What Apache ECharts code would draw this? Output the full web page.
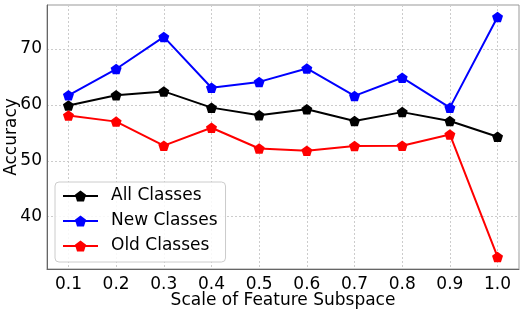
<!DOCTYPE html>
<html>
<head>
<meta charset="utf-8">
<script src="https://cdn.jsdelivr.net/npm/echarts@6/dist/echarts.min.js"></script>
<style>html,body{margin:0;padding:0;background:#fff;}#c{width:525px;height:312px;}</style>
</head>
<body>
<div id="c"></div>
<script>
const scales = [0.1, 0.2, 0.3, 0.4, 0.5, 0.6, 0.7, 0.8, 0.9, 1.0];
const allClasses = [59.9, 61.7, 62.4, 59.5, 58.15, 59.2, 57.1, 58.7, 57.1, 54.3];
const newClasses = [61.7, 66.4, 72.15, 63.05, 64.1, 66.5, 61.6, 64.85, 59.5, 75.7];
const oldClasses = [58.1, 57.0, 52.7, 55.9, 52.2, 51.8, 52.65, 52.7, 54.7, 32.8];
const xTicks = [0.1, 0.2, 0.3, 0.4, 0.5, 0.6, 0.7, 0.8, 0.9, 1.0];
const yTicks = [40, 50, 60, 70];

const pentagon = 'path://M0,-1 L0.951,-0.309 L0.588,0.809 L-0.588,0.809 L-0.951,-0.309 Z';
const font = 'DejaVu Sans';

function mk(name, vals, color) {
  return {
    name: name,
    type: 'line',
    data: scales.map((x, i) => [x, vals[i]]),
    symbol: pentagon,
    symbolSize: [11, 10.5],
    showSymbol: true,
    itemStyle: { color: color },
    lineStyle: { color: color, width: 2 },
    emphasis: { disabled: true },
    animation: false
  };
}

const chart = echarts.init(document.getElementById('c'), null, { renderer: 'canvas' });
chart.setOption({
  animation: false,
  grid: { left: 47, right: 6, top: 5, bottom: 43, outerBoundsMode: 'none', containLabel: false,
    show: true, borderColor: '#999', borderWidth: 1, backgroundColor: 'transparent' },
  xAxis: {
    type: 'value', min: 0.055, max: 1.045,
    name: 'Scale of Feature Subspace', nameLocation: 'middle', nameGap: 23, nameMoveOverlap: false,
    nameTextStyle: { fontFamily: font, fontSize: 17, color: '#000' },
    axisLine: { show: true, onZero: false, lineStyle: { color: '#666', width: 1 } },
    axisTick: { show: false, customValues: xTicks },
    axisLabel: { customValues: xTicks, fontFamily: font, fontSize: 17, color: '#000', margin: 7,
      formatter: v => v.toFixed(1) },
    splitLine: { show: true, lineStyle: { color: '#ccc', type: [2, 2], width: 1 } }
  },
  yAxis: {
    type: 'value', min: 30.65, max: 77.85,
    name: 'Accuracy', nameLocation: 'middle', nameGap: 27, nameRotate: 90, nameMoveOverlap: false,
    nameTextStyle: { fontFamily: font, fontSize: 17, color: '#000' },
    axisLine: { show: true, onZero: false, lineStyle: { color: '#666', width: 1 } },
    axisTick: { show: false, customValues: yTicks },
    axisLabel: { customValues: yTicks, fontFamily: font, fontSize: 17, color: '#000', margin: 5 },
    splitLine: { show: true, lineStyle: { color: '#ccc', type: [2, 2], width: 1 } }
  },
  legend: {
    orient: 'vertical', left: 55, top: 182,
    padding: [4, 8, 6, 7], itemGap: 5,
    itemWidth: 35, itemHeight: 14,
    backgroundColor: 'rgba(255,255,255,0.85)', borderColor: '#ccc', borderWidth: 1, borderRadius: 4,
    textStyle: { fontFamily: font, fontSize: 17, color: '#000', lineHeight: 20, padding: [0, 0, 0, 8] },
    data: ['All Classes', 'New Classes', 'Old Classes']
  },
  series: [
    mk('All Classes', allClasses, '#000000'),
    mk('New Classes', newClasses, '#0000ff'),
    mk('Old Classes', oldClasses, '#ff0000')
  ]
});
</script>
</body>
</html>
